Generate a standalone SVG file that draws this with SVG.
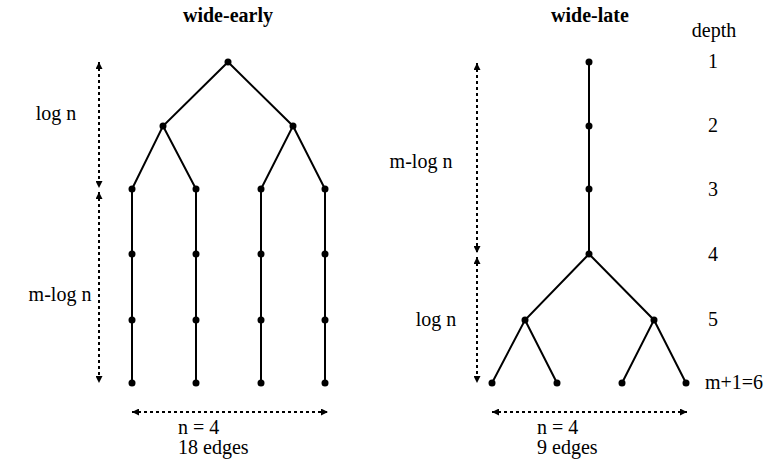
<svg xmlns="http://www.w3.org/2000/svg" width="769" height="463" viewBox="0 0 769 463">
<style>
text{font-family:"Liberation Serif","Times New Roman",serif;font-size:20px;fill:#000}
.t{font-weight:bold}
.e{stroke:#000;stroke-width:2;fill:none}
.d{stroke:#000;stroke-width:2;stroke-dasharray:3,3;fill:none}
circle{fill:#000}
</style>
<defs>
<marker id="ah" viewBox="0 0 10 10" refX="10" refY="5" markerWidth="7" markerHeight="7" orient="auto-start-reverse" markerUnits="userSpaceOnUse"><path d="M0,0L10,5L0,10z" fill="#000"/></marker>
</defs>
<rect width="769" height="463" fill="#fff"/>
<g id="labels">
<text class="t" x="228" y="22" text-anchor="middle">wide-early</text>
<text class="t" x="590" y="22" text-anchor="middle">wide-late</text>
<text x="714" y="37" text-anchor="middle">depth</text>
<text x="713" y="68" text-anchor="middle">1</text>
<text x="713" y="132" text-anchor="middle">2</text>
<text x="713" y="196" text-anchor="middle">3</text>
<text x="713" y="261" text-anchor="middle">4</text>
<text x="713" y="326" text-anchor="middle">5</text>
<text x="705" y="389">m+1=6</text>
<text x="56" y="120" text-anchor="middle">log n</text>
<text x="60" y="301" text-anchor="middle">m-log n</text>
<text x="421" y="168" text-anchor="middle">m-log n</text>
<text x="436" y="326" text-anchor="middle">log n</text>
<text x="178" y="434">n = 4</text>
<text x="178" y="454">18 edges</text>
<text x="537" y="434">n = 4</text>
<text x="537" y="454">9 edges</text>
</g>
<g id="connectors">
<path class="e" d="M228,62L163,126L132,189V383M163,126L196,189V383M228,62L293,126L261,189V383M293,126L325,189V383"/>
<path class="e" d="M589,62V254L525,320L492,383M525,320L557,383M589,254L654,320L622,383M654,320L686,383"/>
<path class="d" d="M99,62V188" marker-start="url(#ah)" marker-end="url(#ah)"/>
<path class="d" d="M99,192V383" marker-start="url(#ah)" marker-end="url(#ah)"/>
<path class="d" d="M477,63V253" marker-start="url(#ah)" marker-end="url(#ah)"/>
<path class="d" d="M477,257V383" marker-start="url(#ah)" marker-end="url(#ah)"/>
<path class="d" d="M132,412H328" marker-start="url(#ah)" marker-end="url(#ah)"/>
<path class="d" d="M492,412H687" marker-start="url(#ah)" marker-end="url(#ah)"/>
</g>
<g id="left-tree">
<circle cx="228" cy="62" r="3.5"/>
<circle cx="163" cy="126" r="3.5"/><circle cx="293" cy="126" r="3.5"/>
<circle cx="132" cy="189" r="3.5"/><circle cx="196" cy="189" r="3.5"/><circle cx="261" cy="189" r="3.5"/><circle cx="325" cy="189" r="3.5"/>
<circle cx="132" cy="254" r="3.5"/><circle cx="196" cy="254" r="3.5"/><circle cx="261" cy="254" r="3.5"/><circle cx="325" cy="254" r="3.5"/>
<circle cx="132" cy="320" r="3.5"/><circle cx="196" cy="320" r="3.5"/><circle cx="261" cy="320" r="3.5"/><circle cx="325" cy="320" r="3.5"/>
<circle cx="132" cy="383" r="3.5"/><circle cx="196" cy="383" r="3.5"/><circle cx="261" cy="383" r="3.5"/><circle cx="325" cy="383" r="3.5"/>
</g>
<g id="right-tree">
<circle cx="589" cy="62" r="3.5"/><circle cx="589" cy="126" r="3.5"/><circle cx="589" cy="189" r="3.5"/><circle cx="589" cy="254" r="3.5"/>
<circle cx="525" cy="320" r="3.5"/><circle cx="654" cy="320" r="3.5"/>
<circle cx="492" cy="383" r="3.5"/><circle cx="557" cy="383" r="3.5"/><circle cx="622" cy="383" r="3.5"/><circle cx="686" cy="383" r="3.5"/>
</g>
</svg>
